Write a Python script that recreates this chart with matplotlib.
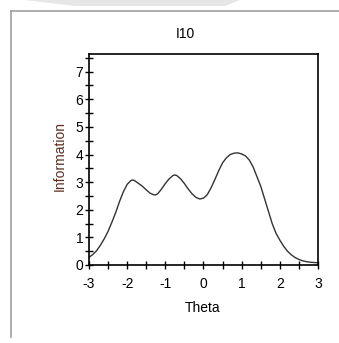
import matplotlib
matplotlib.use("Agg")
import matplotlib.pyplot as plt
from matplotlib.patches import Polygon
from matplotlib.lines import Line2D
from matplotlib.ticker import MultipleLocator

theta = [-3.0, -2.9, -2.8, -2.7, -2.6, -2.5, -2.4, -2.3, -2.2, -2.1, -2.0, -1.9, -1.85,
         -1.8, -1.7, -1.6, -1.5, -1.4, -1.3, -1.25, -1.2, -1.1, -1.0, -0.9, -0.8, -0.75,
         -0.7, -0.6, -0.5, -0.4, -0.3, -0.2, -0.1, 0.0, 0.1, 0.2, 0.3, 0.4, 0.5, 0.6,
         0.7, 0.8, 0.9, 1.0, 1.1, 1.2, 1.3, 1.4, 1.5, 1.6, 1.7, 1.8, 1.9, 2.0, 2.1,
         2.2, 2.3, 2.4, 2.5, 2.6, 2.7, 2.8, 2.9, 3.0]
info = [0.28, 0.38, 0.52, 0.72, 0.95, 1.22, 1.55, 1.9, 2.3, 2.65, 2.92, 3.06, 3.08,
        3.05, 2.95, 2.85, 2.72, 2.6, 2.54, 2.54, 2.58, 2.75, 2.95, 3.12, 3.24, 3.26,
        3.24, 3.12, 2.95, 2.75, 2.58, 2.45, 2.39, 2.42, 2.55, 2.8, 3.1, 3.42, 3.7, 3.88,
        4.0, 4.05, 4.06, 4.02, 3.95, 3.8, 3.55, 3.2, 2.85, 2.4, 1.95, 1.5, 1.15, 0.9, 0.68,
        0.5, 0.37, 0.27, 0.2, 0.15, 0.12, 0.1, 0.09, 0.08]

xticks = [-3, -2, -1, 0, 1, 2, 3]
yticks = [0, 1, 2, 3, 4, 5, 6, 7]

plt.rcParams['font.family'] = ['Liberation Sans Narrow', 'Liberation Sans', 'DejaVu Sans']

fig = plt.figure(figsize=(3.39, 3.43), dpi=100)
W, H = 339, 343

# top gray band and frame
fig.patches.append(Polygon([(25 / W, 1.0), (240 / W, 1.0), (225 / W, 1 - 6 / H), (75 / W, 1 - 6 / H)],
                           closed=True, transform=fig.transFigure, facecolor='#e6e6e6',
                           edgecolor='none'))
fig.lines.append(Line2D([11 / W, 1.0], [1 - 10.5 / H, 1 - 10.5 / H], transform=fig.transFigure,
                        color='#a0a0a0', lw=1.2))
fig.lines.append(Line2D([11 / W, 11 / W], [1 - 10.5 / H, 1 - 337 / H], transform=fig.transFigure,
                        color='#a0a0a0', lw=1.2))

ax = fig.add_axes([89 / W, 1 - 265 / H, (318 - 89) / W, (265 - 54) / H])
ax.plot(theta, info, color='#333333', lw=1.0)
ax.set_xlim(-3, 3)
ax.set_ylim(0, 7.64)
ax.set_xticks(xticks)
ax.set_yticks(yticks)
ax.set_xticklabels([str(v) for v in xticks])
ax.set_yticklabels([str(v) for v in yticks])
ax.xaxis.set_minor_locator(MultipleLocator(0.5))
ax.yaxis.set_minor_locator(MultipleLocator(0.5))
ax.tick_params(which='both', direction='inout', length=6, width=1.0, labelsize=10,
               colors='black')
ax.tick_params(axis='x', pad=6)
ax.tick_params(axis='y', pad=1)
for s in ax.spines.values():
    s.set_linewidth(1.2)
    s.set_color('black')

fig.text(185 / W, 1 - 34 / H, 'I10', ha='center', va='center', fontsize=10)
fig.text(203 / W, 1 - 308 / H, 'Theta', ha='center', va='center', fontsize=10)
fig.text(60 / W, 1 - 156 / H, 'Information', ha='center', va='center', fontsize=10,
         rotation=90, color='#5a3020')

fig.savefig('out.png', dpi=100)
